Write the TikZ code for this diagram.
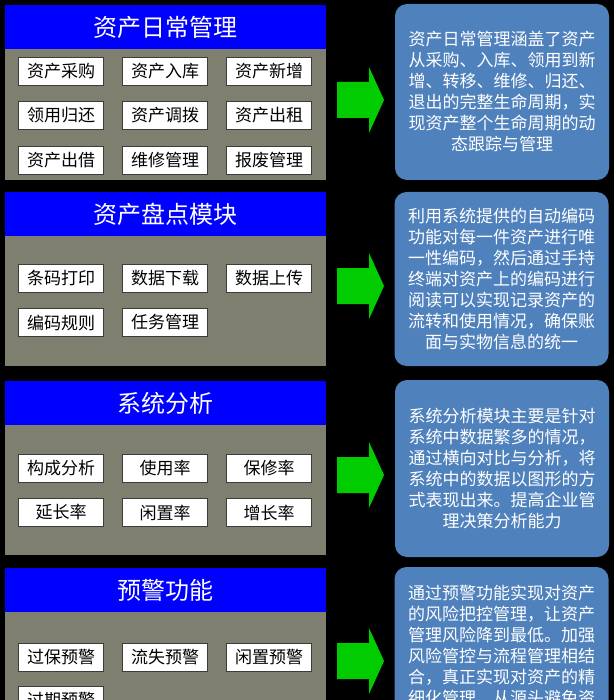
\documentclass[tikz,border=0pt]{standalone}
\usepackage{fontspec}
\setmainfont{Noto Sans CJK SC}
\usetikzlibrary{positioning}
\definecolor{headblue}{HTML}{0000FF}
\definecolor{panelgray}{HTML}{7F7F70}
\definecolor{noteblue}{HTML}{4F81BD}
\definecolor{arrowgreen}{HTML}{00CC00}
\definecolor{edgegray}{HTML}{3C3C3C}

\begin{document}
\begin{tikzpicture}[x=1pt,y=-1pt,
  header/.style={fill=headblue,text=white,minimum width=321pt,minimum height=44pt,inner sep=0pt,font=\fontsize{24}{28}\selectfont},
  body/.style={fill=panelgray,minimum width=321pt,inner sep=0pt},
  btn/.style={draw=edgegray,line width=0.8pt,fill=white,minimum width=85pt,minimum height=28pt,inner sep=0pt,font=\fontsize{17}{20}\selectfont},
  note/.style={fill=noteblue,rounded corners=12pt,text=white,align=center,minimum width=214pt,inner sep=0pt,font=\fontsize{17}{21}\selectfont}]
  \useasboundingbox (0,0) rectangle (614,700);
  \clip (0,0) rectangle (614,700);
  \fill[black] (0,0) rectangle (614,700);

  % panel 1
  \node[header] (h1) at (165.5,27) {资产日常管理};
  \node[body,minimum height=131pt,below=0pt of h1] (g1) {};
  \foreach \t [count=\c] in {资产采购,资产入库,资产新增}
    \node[btn] (m1a\c) at ({104*\c-43},71) {\t};
  \foreach \t [count=\c] in {领用归还,资产调拨,资产出租}
    \node[btn] (m1b\c) at ({104*\c-43},115) {\t};
  \foreach \t [count=\c] in {资产出借,维修管理,报废管理}
    \node[btn] (m1c\c) at ({104*\c-43},160.5) {\t};
  \node[note,minimum height=176pt] (d1) at (502,92) {资产日常管理涵盖了资产\\从采购、入库、领用到新\\增、转移、维修、归还、\\退出的完整生命周期，实\\现资产整个生命周期的动\\态跟踪与管理};

  % panel 2
  \node[header] (h2) at (165.5,214) {资产盘点模块};
  \node[body,minimum height=130pt,below=0pt of h2] (g2) {};
  \foreach \t [count=\c] in {条码打印,数据下载,数据上传}
    \node[btn] (m2a\c) at ({104*\c-43},278.5) {\t};
  \foreach \t [count=\c] in {编码规则,任务管理}
    \node[btn] (m2b\c) at ({104*\c-43},322.5) {\t};
  \node[note,minimum height=174pt] (d2) at (501.5,279) {利用系统提供的自动编码\\功能对每一件资产进行唯\\一性编码，然后通过手持\\终端对资产上的编码进行\\阅读可以实现记录资产的\\流转和使用情况，确保账\\面与实物信息的统一};

  % panel 3
  \node[header] (h3) at (165.5,403) {系统分析};
  \node[body,minimum height=130pt,below=0pt of h3] (g3) {};
  \foreach \t [count=\c] in {构成分析,使用率,保修率}
    \node[btn] (m3a\c) at ({104*\c-43},468) {\t};
  \foreach \t [count=\c] in {延长率,闲置率,增长率}
    \node[btn] (m3b\c) at ({104*\c-43},512.5) {\t};
  \node[note,minimum height=177pt] (d3) at (502,468.5) {系统分析模块主要是针对\\系统中数据繁多的情况，\\通过横向对比与分析，将\\系统中的数据以图形的方\\式表现出来。提高企业管\\理决策分析能力};

  % panel 4
  \node[header] (h4) at (165.5,590) {预警功能};
  \node[body,minimum height=110pt,below=0pt of h4] (g4) {};
  \foreach \t [count=\c] in {过保预警,流失预警,闲置预警}
    \node[btn] (m4a\c) at ({104*\c-43},657) {\t};
  \node[btn] (m4b1) at (61,700) {过期预警};
  \node[note,minimum height=157pt] (d4) at (501.5,645.5) {通过预警功能实现对资产\\的风险把控管理，让资产\\管理风险降到最低。加强\\风险管控与流程管理相结\\合，真正实现对资产的精\\细化管理，从源头避免资};

  % arrows between panels and notes
  \foreach \y in {100,286,475,661}
    \fill[arrowgreen] (337,\y-18) -- (369,\y-18) -- (369,\y-33) -- (384,\y)
      -- (369,\y+33) -- (369,\y+18) -- (337,\y+18) -- cycle;
\end{tikzpicture}
\end{document}
